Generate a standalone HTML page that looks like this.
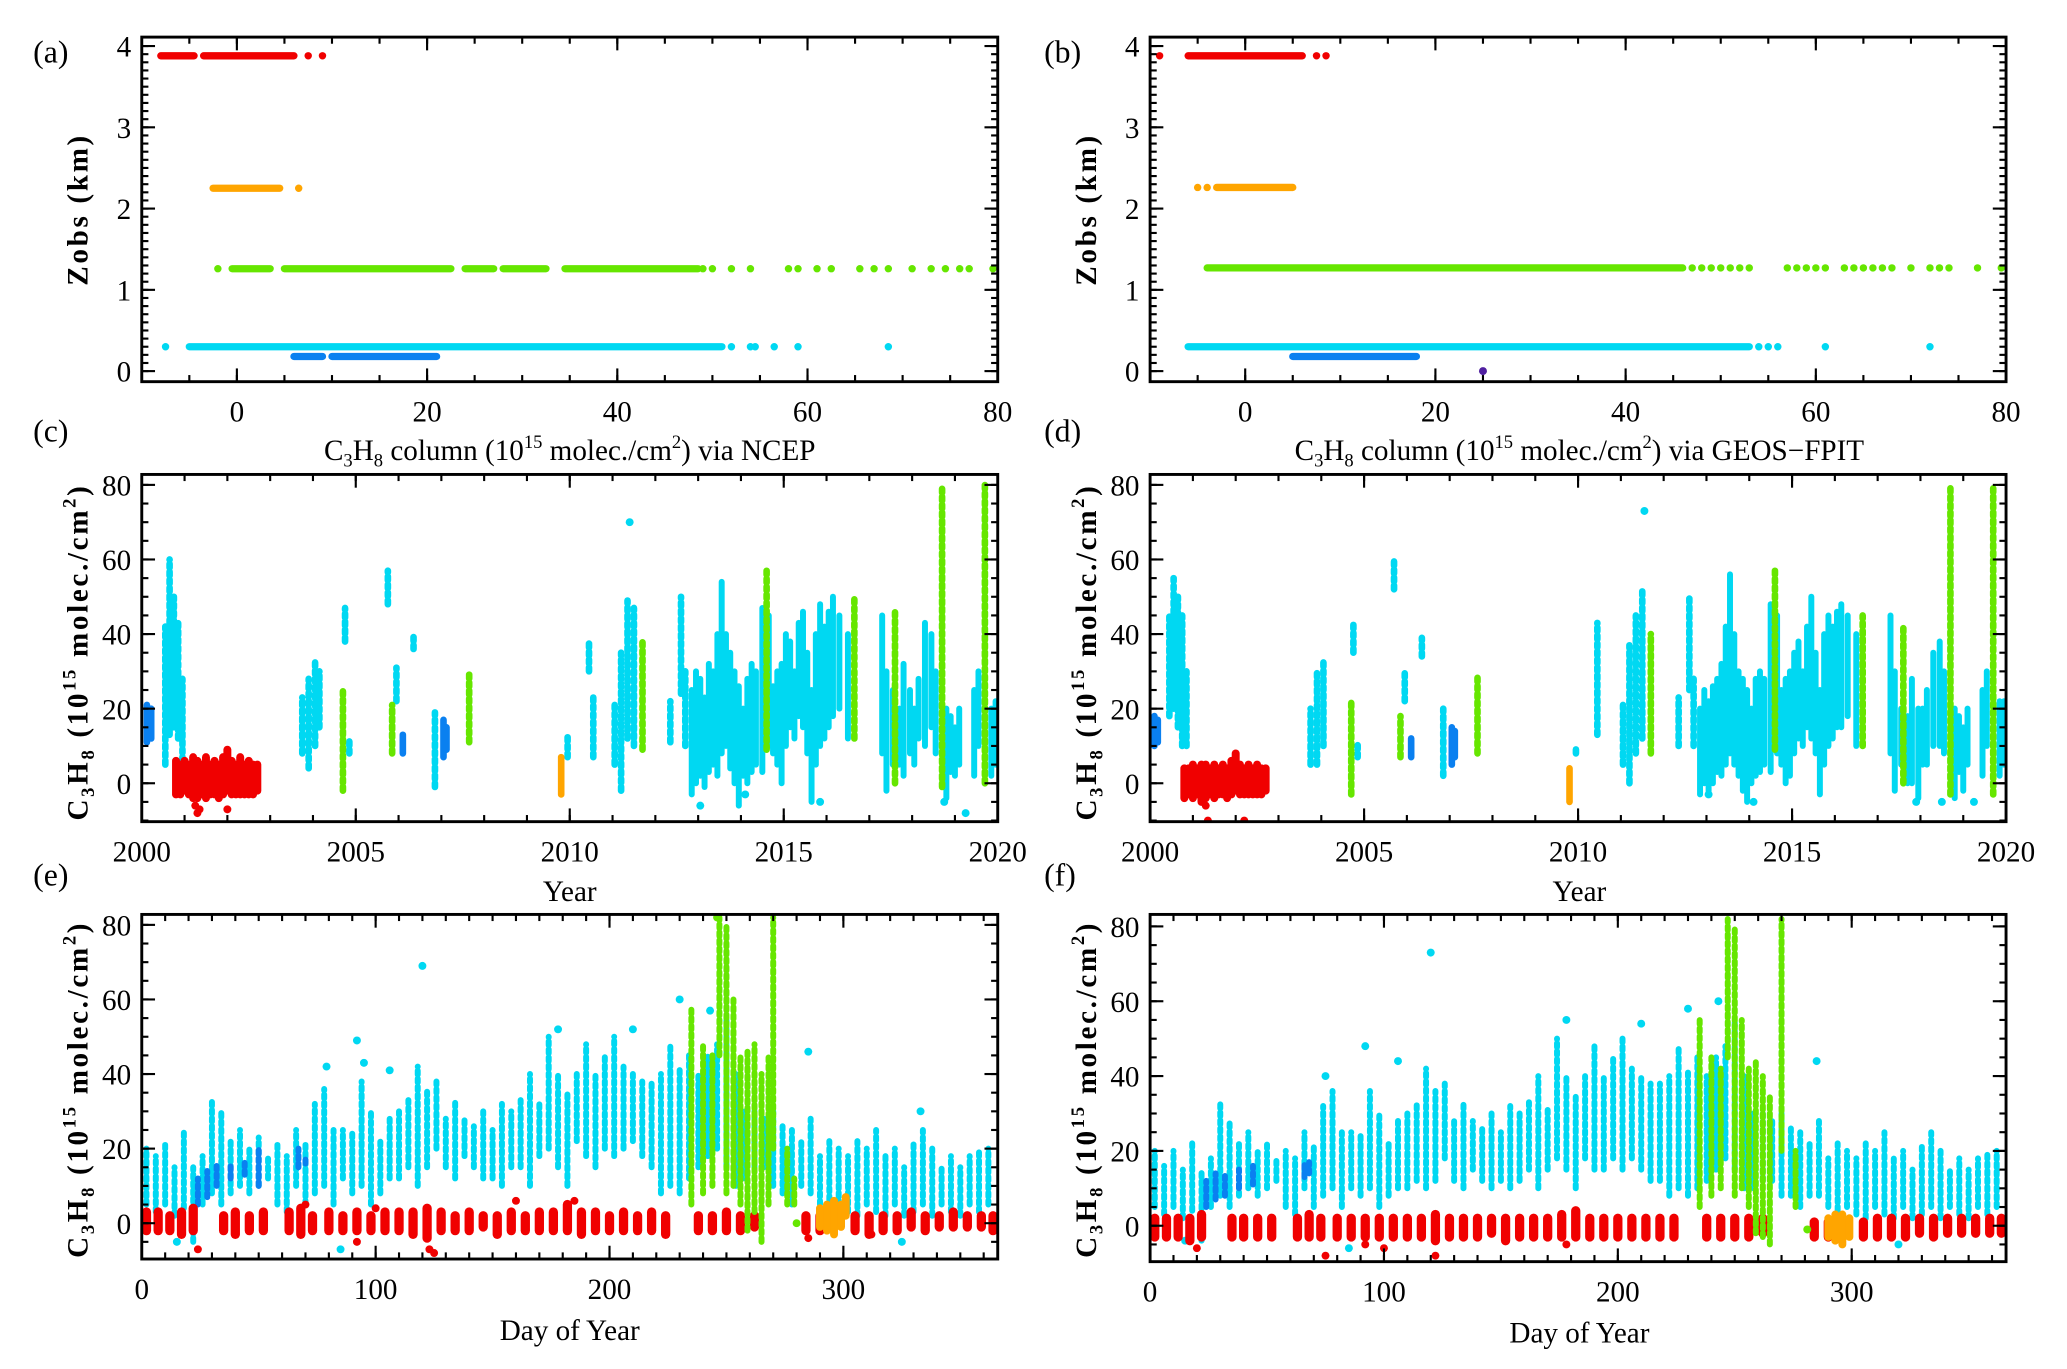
<!DOCTYPE html>
<html><head><meta charset="utf-8"><style>
html,body{margin:0;padding:0;background:#fff;}
svg{display:block;font-family:"Liberation Serif",serif;}
</style></head><body>
<svg id="fig" width="2067" height="1369" viewBox="0 0 1560 1033" preserveAspectRatio="none" xmlns="http://www.w3.org/2000/svg"></svg>
<script>
// ---------- Panel (a) NCEP: Zobs vs column ----------
const aRedSegs=[[-8,-4.5],[-3.5,6]]; const aRedPts=[7.5,9]; const aRedY=3.88;
const aOrangeSegs=[[-2.5,4.5]]; const aOrangePts=[6.5]; const aOrangeY=2.25;
const aGreenSegs=[[-0.5,3.5],[5,22.5],[24,27],[28,32.5],[34.5,48.5]];
const aGreenPts=[-2,49,50,52,54,58,59,61,62.5,65.5,67,68.5,71,73,74.5,76,77,79.5]; const aGreenY=1.26;
const aCyanSegs=[[-5,51]]; const aCyanPts=[-7.5,52,54,54.5,56.5,59,68.5]; const aCyanY=0.3;
const aBlueSegs=[[6,9],[10,21]]; const aBluePts=[]; const aBlueY=0.18;
// ---------- Panel (b) GEOS-FPIT ----------
const bRedSegs=[[-6,6]]; const bRedPts=[-9,7.5,8.5]; const bRedY=3.88;
const bOrangeSegs=[[-3,5]]; const bOrangePts=[-5,-4]; const bOrangeY=2.26;
const bGreenSegs=[[-4,46]]; const bGreenPts=[47,48,49,50,51,52,53,57,58,59,60,61,63,64,65,66,67,68,70,72,73,74,77,79.5]; const bGreenY=1.27;
const bCyanSegs=[[-6,53]]; const bCyanPts=[54,55,56,61,72]; const bCyanY=0.3;
const bBlueSegs=[[5,18]]; const bBluePts=[]; const bBlueY=0.18;
const bPurplePts=[[25,0]];
// ---------- Panel (c) Year, NCEP: columns [year, lo, hi] ----------
const cBlueCols=[[2000.12,11,21],[2000.22,12,20],[2006.1,8,13],[2007.05,7,17],[2007.12,9,15]];
const cRedCols=[[2000.8,-3,6],[2000.9,-3,5],[2001.0,-2,6],[2001.1,-3,5],[2001.2,-4,7],[2001.3,-4,6],[2001.4,-3,5],[2001.5,-4,7],[2001.6,-3,5],[2001.7,-3,6],[2001.8,-4,5],[2001.9,-3,7],[2002.0,-2,9],[2002.1,-3,6],[2002.2,-3,5],[2002.3,-3,7],[2002.4,-3,5],[2002.5,-3,6],[2002.6,-3,5],[2002.7,-2,5]];
const cRedPts=[[2001.3,-8],[2001.35,-7],[2002.0,-7],[2001.25,-6]];
const cOrangeCols=[[2009.8,-3,7]];
const cCyanSparse=[[2000.55,5,42],[2000.65,13,60],[2000.75,15,50],[2000.85,12,43],[2000.95,6,28],[2003.75,8,23],[2003.9,4,28],[2004.05,10,33],[2004.15,15,30],[2004.75,38,47],[2004.85,8,12],[2005.75,48,57],[2005.95,22,31],[2006.35,36,40],[2006.85,-1,19],[2009.95,7,13],[2010.45,30,38],[2010.55,7,23],[2011.05,5,22],[2011.2,-2,35],[2011.35,12,49],[2011.5,10,47],[2012.35,11,22],[2012.6,24,50],[2012.7,10,30]];
const cCyanDense=[[2012.85,-3,25],[2012.95,0,30],[2013.05,2,28],[2013.15,-1,23],[2013.25,3,32],[2013.35,5,30],[2013.45,2,40],[2013.55,8,54],[2013.65,10,40],[2013.75,4,35],[2013.85,0,30],[2013.95,-6,26],[2014.05,2,20],[2014.15,0,28],[2014.25,3,32],[2014.35,5,30],[2014.5,3,47],[2014.65,10,45],[2014.75,8,26],[2014.85,5,30],[2014.95,0,32],[2015.05,10,40],[2015.15,15,38],[2015.25,12,30],[2015.35,18,43],[2015.45,15,46],[2015.55,8,35],[2015.65,-5,25],[2015.75,5,40],[2015.85,10,48],[2015.95,12,42],[2016.05,15,46],[2016.15,18,50],[2016.3,20,45],[2016.5,12,40],[2017.3,8,45],[2017.4,-2,30],[2017.55,5,25],[2017.7,5,20],[2017.8,2,32],[2017.95,8,25],[2018.05,5,20],[2018.15,12,28],[2018.3,10,43],[2018.45,15,40],[2018.55,8,30],[2018.8,-4,20],[2018.9,3,18],[2019.0,2,15],[2019.1,5,20],[2019.45,2,25],[2019.55,10,30],[2019.85,2,20],[2019.95,5,22]];
const cCyanPts=[[2011.4,70],[2018.75,-5],[2019.25,-8],[2015.85,-5],[2013.05,-6],[2014.1,-3]];
const cGreenCols=[[2004.7,-2,25],[2005.85,8,21],[2007.65,11,30],[2011.7,9,38],[2014.6,9,58],[2016.65,12,50],[2017.6,0,46],[2018.7,-1,80],[2019.7,0,80]];
// ---------- Panel (d) Year, GEOS-FPIT ----------
const dBlueCols=[[2000.1,10,18],[2000.18,11,17],[2006.1,7,12],[2007.05,5,15],[2007.12,7,14]];
const dRedCols=[[2000.8,-4,4],[2000.9,-3,4],[2001.0,-4,5],[2001.1,-3,4],[2001.2,-5,5],[2001.3,-4,5],[2001.4,-3,4],[2001.5,-4,5],[2001.6,-3,4],[2001.7,-3,5],[2001.8,-4,4],[2001.9,-3,6],[2002.0,-2,8],[2002.1,-3,5],[2002.2,-3,4],[2002.3,-3,5],[2002.4,-3,4],[2002.5,-3,5],[2002.6,-3,4],[2002.7,-2,4]];
const dRedPts=[[2001.35,-10],[2002.2,-10],[2001.3,-6]];
const dOrangeCols=[[2009.8,-5,4]];
const dCyanSparse=[[2000.45,18,45],[2000.55,20,55],[2000.65,15,50],[2000.75,10,45],[2000.85,10,30],[2003.75,5,20],[2003.9,5,30],[2004.05,10,33],[2004.75,35,43],[2004.85,7,11],[2005.7,52,60],[2005.95,22,30],[2006.35,34,39],[2006.85,2,20],[2009.95,8,10],[2010.45,13,43],[2011.05,5,22],[2011.2,0,37],[2011.35,8,45],[2011.5,12,52],[2012.35,10,23],[2012.6,25,50],[2012.7,10,28]];
const dCyanDense=[[2012.85,-3,20],[2012.95,0,25],[2013.05,-2,22],[2013.15,0,26],[2013.25,3,28],[2013.35,2,32],[2013.45,5,42],[2013.55,8,56],[2013.65,5,40],[2013.75,2,30],[2013.85,-2,28],[2013.95,-5,25],[2014.05,0,20],[2014.15,2,28],[2014.25,3,30],[2014.35,5,28],[2014.5,3,48],[2014.65,8,45],[2014.75,5,25],[2014.85,0,28],[2014.95,2,30],[2015.05,8,35],[2015.15,12,38],[2015.25,10,30],[2015.35,15,42],[2015.45,12,50],[2015.55,8,35],[2015.65,-3,25],[2015.75,5,40],[2015.85,10,45],[2015.95,12,42],[2016.05,15,46],[2016.15,15,48],[2016.3,18,45],[2016.5,10,40],[2017.3,8,45],[2017.4,-2,30],[2017.55,5,20],[2017.7,0,18],[2017.8,0,28],[2017.95,-4,20],[2018.05,5,20],[2018.15,5,25],[2018.3,10,35],[2018.45,10,38],[2018.55,8,30],[2018.8,-4,20],[2018.9,3,18],[2019.0,-2,15],[2019.1,5,20],[2019.45,2,25],[2019.55,10,30],[2019.85,2,22],[2019.95,5,22]];
const dCyanPts=[[2011.55,73],[2018.5,-5],[2019.25,-5],[2017.9,-5],[2013.05,-3],[2014.1,-5]];
const dGreenCols=[[2004.7,-3,22],[2005.85,7,18],[2007.65,8,29],[2011.7,8,40],[2014.6,9,58],[2016.65,10,45],[2017.6,0,42],[2018.7,-3,80],[2019.7,-3,80]];
// ---------- Panel (e) Day of year, NCEP ----------
const eCyanCols=[[2,5,20],[6,3,18],[10,5,22],[14,2,15],[18,4,25],[22,-5,15],[26,5,18],[30,8,33],[34,5,30],[38,8,22],[42,10,25],[46,8,20],[50,10,23],[54,12,18],[58,5,22],[62,3,18],[66,10,25],[70,5,22],[74,8,32],[78,10,36],[82,5,25],[86,12,25],[90,8,25],[94,10,38],[98,5,30],[102,8,22],[106,12,28],[110,12,30],[114,15,33],[118,10,42],[122,15,36],[126,20,38],[130,15,28],[134,12,33],[138,18,28],[142,15,26],[146,12,30],[150,12,25],[154,10,32],[158,15,30],[162,15,33],[166,10,40],[170,18,32],[174,20,50],[178,15,40],[182,10,35],[186,22,40],[190,18,48],[194,15,40],[198,20,45],[202,18,50],[206,20,42],[210,22,40],[214,18,38],[218,15,38],[222,8,40],[226,10,48],[230,8,42],[234,12,45],[238,15,40],[242,18,45],[246,20,48],[250,15,55],[254,10,40],[258,12,30],[262,15,30],[266,15,28],[270,10,30],[274,8,26],[278,5,25],[282,10,22],[286,8,28],[290,5,18],[294,2,22],[298,5,20],[302,3,18],[306,2,22],[310,5,20],[314,3,25],[318,2,18],[322,5,20],[326,2,15],[330,3,22],[334,5,25],[338,2,20],[342,5,15],[346,3,18],[350,2,15],[354,5,18],[358,3,20],[362,5,20]];
const eCyanPts=[[120,69],[92,49],[95,43],[106,41],[210,52],[178,52],[230,60],[243,57],[285,46],[85,-7],[325,-5],[15,-5],[333,30],[79,42]];
const eRedCols=[[2,-2,3],[7,-2,3],[12,-2,2],[17,-3,3],[22,-2,4],[35,-2,2],[40,-3,3],[46,-2,2],[52,-2,3],[63,-2,3],[68,-3,4],[73,-2,2],[80,-2,3],[86,-2,2],[92,-2,3],[98,-2,2],[104,-2,3],[110,-2,3],[116,-3,3],[122,-4,4],[128,-2,3],[134,-2,2],[140,-2,3],[146,-1,2],[152,-3,2],[158,-2,3],[164,-2,2],[170,-2,3],[176,-2,3],[182,-2,5],[188,-3,3],[194,-2,3],[200,-2,2],[206,-2,3],[212,-2,2],[218,-2,3],[224,-3,2],[238,-2,2],[244,-2,2],[250,-2,3],[256,-2,2],[262,-1,2],[284,-2,2],[290,-2,2],[305,-2,2],[311,-3,2],[317,-2,2],[323,-2,2],[329,-1,3],[335,-2,2],[341,-1,2],[347,-1,3],[353,-1,2],[359,-1,2],[364,-2,2]];
const eRedPts=[[24,-7],[92,-5],[123,-7],[125,-8],[70,5],[160,6],[185,6],[100,4],[285,-4],[312,-3]];
const eGreenCols=[[235,5,58],[240,8,48],[244,10,45],[247,45,82],[250,8,80],[253,10,60],[256,5,45],[259,-2,46],[262,3,48],[265,-5,40],[268,5,45],[270,20,82],[276,5,20],[279,5,12]];
const eGreenPts=[[280,0],[246,82]];
const eOrangeCols=[[290,-1,4],[293,-2,5],[296,-3,6],[299,-1,5],[301,2,7]];
const eBlueCols=[[24,5,12],[28,7,14],[32,10,16],[38,12,16],[44,13,17],[50,10,20],[67,15,20],[70,16,18]];
// ---------- Panel (f) Day of year, GEOS-FPIT ----------
const fCyanCols=[[2,5,20],[6,3,16],[10,5,20],[14,2,15],[18,4,22],[22,-4,15],[26,5,18],[30,8,33],[34,5,28],[38,8,22],[42,10,25],[46,8,20],[50,10,22],[54,12,18],[58,5,20],[62,3,18],[66,10,25],[70,5,22],[74,8,32],[78,10,36],[82,5,25],[86,10,25],[90,8,25],[94,10,36],[98,5,30],[102,8,22],[106,10,28],[110,10,30],[114,12,33],[118,10,42],[122,12,36],[126,18,38],[130,12,28],[134,10,33],[138,15,28],[142,12,26],[146,10,30],[150,12,25],[154,10,32],[158,12,30],[162,15,33],[166,10,40],[170,15,32],[174,18,50],[178,15,40],[182,10,35],[186,18,40],[190,15,48],[194,15,40],[198,18,45],[202,15,50],[206,18,42],[210,15,40],[214,12,38],[218,12,38],[222,8,40],[226,10,48],[230,8,42],[234,10,45],[238,12,40],[242,15,45],[246,18,48],[250,15,55],[254,10,40],[258,10,30],[262,12,30],[266,12,28],[270,8,30],[274,8,26],[278,5,25],[282,8,22],[286,8,28],[290,5,18],[294,2,22],[298,5,20],[302,3,18],[306,2,22],[310,5,20],[314,3,25],[318,2,18],[322,5,20],[326,2,15],[330,3,22],[334,5,25],[338,2,20],[342,5,15],[346,3,18],[350,2,15],[354,5,18],[358,3,20],[362,5,20]];
const fCyanPts=[[120,73],[92,48],[106,44],[210,54],[178,55],[230,58],[243,60],[285,44],[85,-6],[320,-5],[15,-4],[75,40]];
const fRedCols=[[2,-3,2],[7,-3,2],[12,-3,2],[17,-4,2],[22,-3,3],[35,-3,2],[40,-3,2],[46,-3,2],[52,-3,2],[63,-3,2],[68,-3,3],[73,-3,2],[80,-3,2],[86,-3,2],[92,-3,2],[98,-3,2],[104,-3,2],[110,-3,2],[116,-3,2],[122,-4,3],[128,-3,2],[134,-3,2],[140,-3,2],[146,-2,2],[152,-4,2],[158,-3,2],[164,-3,2],[170,-3,2],[176,-3,3],[182,-3,4],[188,-3,2],[194,-3,2],[200,-3,2],[206,-3,2],[212,-3,2],[218,-3,2],[224,-3,2],[238,-3,2],[244,-3,2],[250,-3,2],[256,-3,2],[262,-2,2],[284,-3,1],[290,-3,1],[305,-3,1],[311,-3,2],[317,-3,2],[323,-3,2],[329,-2,2],[335,-3,2],[341,-2,2],[347,-2,2],[353,-2,2],[359,-2,2],[364,-2,2]];
const fRedPts=[[20,-6],[92,-5],[122,-8],[75,-8],[100,-6],[178,-5]];
const fGreenCols=[[235,5,55],[240,8,45],[244,10,42],[247,45,82],[250,8,80],[253,10,55],[256,5,42],[259,-2,44],[262,-3,40],[265,-5,35],[270,20,82],[276,5,20]];
const fGreenPts=[[281,-1]];
const fOrangeCols=[[290,-3,2],[293,-4,3],[296,-5,3],[299,-3,2]];
const fBlueCols=[[24,5,12],[28,7,14],[32,8,14],[38,10,15],[44,11,16],[66,13,17],[68,14,17]];

const COL={red:"#f00000",orange:"#ffa500",green:"#66e600",cyan:"#00d8f2",blue:"#0a80f0",purple:"#5020a0"};
const NS="http://www.w3.org/2000/svg";
const fig=document.getElementById('fig');
function mk(tag,attrs,parent){const e=document.createElementNS(NS,tag);for(const k in attrs)e.setAttribute(k,attrs[k]);(parent||fig).appendChild(e);return e;}

function makePanel(o){
  const g=mk('g',{});
  
  
  const sx=v=>o.x+(v-o.xmin)/(o.xmax-o.xmin)*o.w;
  const sy=v=>o.y+o.h-(v-o.ymin)/(o.ymax-o.ymin)*o.h;
  const clip=mk('clipPath',{id:'clip-'+o.name},g);
  mk('rect',{x:o.x,y:o.y,width:o.w,height:o.h},clip);
  const plot=mk('g',{'clip-path':'url(#clip-'+o.name+')'},g);
  
  
  return {g,plot,sx,sy,o};
}
function finishPanel(P,xt,xmin,ymaj,ymin,xlabels,ylabels){
  const {g,sx,sy,o}=P;
  const tk=mk('g',{stroke:'#000','stroke-width':1.6},g);
  
  
  xmin.forEach(v=>{const X=sx(v);mk('line',{x1:X,x2:X,y1:o.y+o.h,y2:o.y+o.h-5},tk);mk('line',{x1:X,x2:X,y1:o.y,y2:o.y+5},tk);});
  xt.forEach(v=>{const X=sx(v);mk('line',{x1:X,x2:X,y1:o.y+o.h,y2:o.y+o.h-10},tk);mk('line',{x1:X,x2:X,y1:o.y,y2:o.y+10},tk);});
  ymin.forEach(v=>{const Y=sy(v);mk('line',{x1:o.x,x2:o.x+5,y1:Y,y2:Y},tk);mk('line',{x1:o.x+o.w,x2:o.x+o.w-5,y1:Y,y2:Y},tk);});
  ymaj.forEach(v=>{const Y=sy(v);mk('line',{x1:o.x,x2:o.x+10,y1:Y,y2:Y},tk);mk('line',{x1:o.x+o.w,x2:o.x+o.w-10,y1:Y,y2:Y},tk);});
  const fr=mk('rect',{x:o.x,y:o.y,width:o.w,height:o.h,fill:'none',stroke:'#000','stroke-width':2.2},g);
  
  
  xt.forEach((v,i)=>{const t=mk('text',{x:sx(v),y:o.y+o.h+30,'text-anchor':'middle','font-size':22},g);t.textContent=xlabels[i];
    
    });
  ymaj.forEach((v,i)=>{const t=mk('text',{x:o.x-8,y:sy(v)+8,'text-anchor':'end','font-size':22},g);t.textContent=ylabels[i];
    
    });
}
function hSegs(P,segs,y,c,nm){segs.forEach(s=>{const l=mk('line',{x1:P.sx(s[0]),x2:P.sx(s[1]),y1:P.sy(y),y2:P.sy(y),stroke:COL[c],'stroke-width':5.5,'stroke-linecap':'round'},P.plot);
  
  });}
function hPts(P,pts,y,c,nm){pts.forEach(v=>{const e=mk('circle',{cx:P.sx(v),cy:P.sy(y),r:2.8,fill:COL[c]},P.plot);
  
  });}
function cols(P,arr,c,dense,nm,w){arr.forEach(a=>{const at={x1:P.sx(a[0]),x2:P.sx(a[0]),y1:P.sy(a[1]),y2:P.sy(a[2]),stroke:COL[c],'stroke-width':w||5,'stroke-linecap':'round'};
  if(!dense)at['stroke-dasharray']='3 3';
  const l=mk('line',at,P.plot);
  
  });}
function pts(P,arr,c,nm){arr.forEach(a=>{const e=mk('circle',{cx:P.sx(a[0]),cy:P.sy(a[1]),r:3,fill:COL[c]},P.plot);
  
  });}
function rng(a,b,s){const r=[];for(let v=a;v<=b+1e-9;v+=s)r.push(+v.toFixed(3));return r;}
function text(x,y,s,size,nm,extra){const t=mk('text',Object.assign({x:x,y:y,'font-size':size},extra||{}));t.innerHTML=s;
  
  return t;}

[['panel-a',107,aRedSegs,aRedPts,aRedY,aOrangeSegs,aOrangePts,aOrangeY,aGreenSegs,aGreenPts,aGreenY,aCyanSegs,aCyanPts,aCyanY,aBlueSegs,aBluePts,aBlueY],
 ['panel-b',868,bRedSegs,bRedPts,bRedY,bOrangeSegs,bOrangePts,bOrangeY,bGreenSegs,bGreenPts,bGreenY,bCyanSegs,bCyanPts,bCyanY,bBlueSegs,bBluePts,bBlueY]].forEach(d=>{
  const P=makePanel({name:d[0],x:d[1],y:28,w:646,h:260,xmin:-10,xmax:80,ymin:-0.13,ymax:4.11});
  hSegs(P,d[2],d[4],'red','red-series');hPts(P,d[3],d[4],'red','red-point');
  hSegs(P,d[5],d[7],'orange','orange-series');hPts(P,d[6],d[7],'orange','orange-point');
  hSegs(P,d[8],d[10],'green','green-series');hPts(P,d[9],d[10],'green','green-point');
  hSegs(P,d[11],d[13],'cyan','cyan-series');hPts(P,d[12],d[13],'cyan','cyan-point');
  hSegs(P,d[14],d[16],'blue','blue-series');hPts(P,d[15],d[16],'blue','blue-point');
  if(d[0]==='panel-b')pts(P,bPurplePts,'purple','purple-point');
  finishPanel(P,[0,20,40,60,80],rng(-10,80,5),[0,1,2,3,4],rng(0,4,0.1),['0','20','40','60','80'],['0','1','2','3','4']);
});
[['panel-c',107,cBlueCols,cRedCols,cRedPts,cOrangeCols,cCyanSparse,cCyanDense,cCyanPts,cGreenCols],
 ['panel-d',868,dBlueCols,dRedCols,dRedPts,dOrangeCols,dCyanSparse,dCyanDense,dCyanPts,dGreenCols]].forEach(d=>{
  const P=makePanel({name:d[0],x:d[1],y:358,w:646,h:262,xmin:2000,xmax:2020,ymin:-10.3,ymax:82.8});
  cols(P,d[6],'cyan',false,'cyan-column');
  cols(P,d[7],'cyan',true,'cyan-column',4.5);
  pts(P,d[8],'cyan','cyan-point');
  cols(P,d[2],'blue',true,'blue-column');
  cols(P,d[3],'red',true,'red-column',6);
  pts(P,d[4],'red','red-point');
  cols(P,d[5],'orange',true,'orange-column');
  cols(P,d[9],'green',false,'green-column');
  finishPanel(P,[2000,2005,2010,2015,2020],rng(2000,2020,1),[0,20,40,60,80],rng(-10,80,5),['2000','2005','2010','2015','2020'],['0','20','40','60','80']);
});
[['panel-e',107,690,260,-9.6,82.8,eCyanCols,eCyanPts,eRedCols,eRedPts,eGreenCols,eGreenPts,eOrangeCols,eBlueCols],
 ['panel-f',868,690,262,-9.6,83.2,fCyanCols,fCyanPts,fRedCols,fRedPts,fGreenCols,fGreenPts,fOrangeCols,fBlueCols]].forEach(d=>{
  const P=makePanel({name:d[0],x:d[1],y:d[2],w:646,h:d[3],xmin:0,xmax:366,ymin:d[4],ymax:d[5]});
  cols(P,d[6],'cyan',false,'cyan-column',4.5);
  pts(P,d[7],'cyan','cyan-point');
  cols(P,d[13],'blue',false,'blue-column',4.5);
  cols(P,d[8],'red',true,'red-column',7);
  pts(P,d[9],'red','red-point');
  cols(P,d[10],'green',false,'green-column',4.5);
  pts(P,d[11],'green','green-point');
  cols(P,d[12],'orange',true,'orange-column',6);
  finishPanel(P,[0,100,200,300],rng(0,360,10),[0,20,40,60,80],rng(-5,80,5),['0','100','200','300'],['0','20','40','60','80']);
});

[['(a)',25,47],['(b)',788,47],['(c)',25,333],['(d)',788,333],['(e)',25,668],['(f)',788,668]].forEach(p=>text(p[1],p[2],p[0],24,'panel-label'));
const c3='C<tspan font-size="14" dy="5">3</tspan><tspan dy="-5">H</tspan><tspan font-size="14" dy="5">8</tspan><tspan dy="-5"> column (10</tspan><tspan font-size="14" dy="-9">15</tspan><tspan dy="9"> molec./cm</tspan><tspan font-size="14" dy="-9">2</tspan><tspan dy="9">) via </tspan>';
text(430,347,c3+'NCEP',22,'x-axis-title-a',{'text-anchor':'middle'});
text(1192,347,c3+'GEOS&#8722;FPIT',22,'x-axis-title-b',{'text-anchor':'middle'});
text(430,680,'Year',22,'x-axis-title-c',{'text-anchor':'middle'});
text(1192,680,'Year',22,'x-axis-title-d',{'text-anchor':'middle'});
text(430,1011,'Day of Year',22,'x-axis-title-e',{'text-anchor':'middle'});
text(1192,1013,'Day of Year',22,'x-axis-title-f',{'text-anchor':'middle'});
text(0,0,'Zobs (km)',22,'y-axis-title-a',{'text-anchor':'middle','font-weight':'bold','letter-spacing':'2',transform:'translate(66,158) rotate(-90)'});
text(0,0,'Zobs (km)',22,'y-axis-title-b',{'text-anchor':'middle','font-weight':'bold','letter-spacing':'2',transform:'translate(827,158) rotate(-90)'});
const yt='C<tspan font-size="14" dy="5">3</tspan><tspan dy="-5">H</tspan><tspan font-size="14" dy="5">8</tspan><tspan dy="-5"> (10</tspan><tspan font-size="14" dy="-9">15</tspan><tspan dy="9"> molec./cm</tspan><tspan font-size="14" dy="-9">2</tspan><tspan dy="9">)</tspan>';
[['y-axis-title-c',66,492],['y-axis-title-d',827,492],['y-axis-title-e',66,822],['y-axis-title-f',827,822]].forEach(p=>
  text(0,0,yt,22,p[0],{'text-anchor':'middle','font-weight':'bold','letter-spacing':'2',transform:'translate('+p[1]+','+p[2]+') rotate(-90)'}));
</script>
</body></html>
